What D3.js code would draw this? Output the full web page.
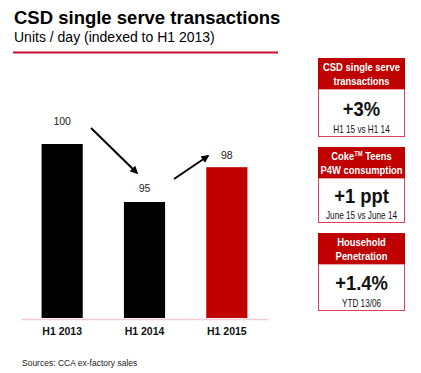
<!DOCTYPE html>
<html>
<head>
<meta charset="utf-8">
<script src="https://cdn.jsdelivr.net/npm/d3@7"></script>
<style>
  body { margin: 0; background: #fff; }
  svg text { font-family: "Liberation Sans", Arial, sans-serif; }
</style>
</head>
<body>
<svg id="chart"></svg>
<script>
// chart data
var periods = ["H1 2013", "H1 2014", "H1 2015"];
var values = [100, 95, 98];
var barColors = ["#000000", "#000000", "#c00000"];

// side panel data
var boxTitles = [["CSD single serve", "transactions"], ["Coke\u2122 Teens", "P4W consumption"], ["Household", "Penetration"]];
var boxValues = ["+3%", "+1 ppt", "+1.4%"];
var boxNotes = ["H1 15 vs H1 14", "June 15 vs June 14", "YTD 13/06"];

var screen = {width:421, height:373};
var red = "#c00000";
var narrow = 0.82; // squeeze for the narrow box lettering

var svg = d3.select("#chart")
    .attr("width", screen.width)
    .attr("height", screen.height)

// title block
svg.append("text")
    .attr("x", 14).attr("y", 24)
    .attr("font-size", 18.5).attr("font-weight", "bold")
    .text("CSD single serve transactions")
svg.append("text")
    .attr("x", 14).attr("y", 42)
    .attr("font-size", 14)
    .text("Units / day (indexed to H1 2013)")
svg.append("line")
    .attr("x1", 13).attr("x2", 278)
    .attr("y1", 52.5).attr("y2", 52.5)
    .attr("stroke", "#c8102e").attr("stroke-width", 2)

// scales
var xScale = d3.scaleBand()
    .domain(periods)
    .range([21, 268])
    .paddingInner(0.5)
    .paddingOuter(0.25)

var yScale = d3.scaleLinear()
    .domain([85, 100])
    .range([318, 144])

var g = svg.append("g").classed("graph", true)

g.selectAll("rect.bar")
    .data(values)
    .enter()
    .append("rect")
    .classed("bar", true)
    .attr("x", function(d, i) { return xScale(periods[i]); })
    .attr("y", function(d) { return yScale(d); })
    .attr("width", xScale.bandwidth())
    .attr("height", function(d) { return yScale(85) - yScale(d); })
    .attr("fill", function(d, i) { return barColors[i]; })

// value labels
var labelGap = [19, 10, 8];
g.selectAll("text.val")
    .data(values)
    .enter()
    .append("text")
    .classed("val", true)
    .attr("x", function(d, i) { return xScale(periods[i]) + xScale.bandwidth() / 2; })
    .attr("y", function(d, i) { return yScale(d) - labelGap[i]; })
    .attr("text-anchor", "middle")
    .attr("font-size", 10.5)
    .attr("fill", "#222")
    .text(function(d) { return d; })

// axis
var xAxis = d3.axisBottom(xScale).tickSize(0).tickPadding(9)
var axis = svg.append("g")
    .attr("transform", "translate(0,319)")
    .call(xAxis)
axis.select(".domain").attr("stroke", "#f4ccd8").attr("stroke-width", 1.5)
axis.selectAll("text")
    .attr("font-size", 10.5).attr("font-weight", "bold").attr("fill", "#111")
    .style("font-family", "Liberation Sans, Arial, sans-serif")

// arrows
svg.append("defs").append("marker")
    .attr("id", "head")
    .attr("viewBox", "0 0 10 10")
    .attr("refX", 8).attr("refY", 5)
    .attr("markerWidth", 4).attr("markerHeight", 4)
    .attr("orient", "auto")
    .append("path")
    .attr("d", "M0,0L10,5L0,10z")
    .attr("fill", "#000")

var arrows = [
    [[91, 128], [137, 173]],
    [[174, 179], [208, 156]]
];
svg.selectAll("line.arrow")
    .data(arrows)
    .enter()
    .append("line")
    .classed("arrow", true)
    .attr("x1", function(d) { return d[0][0]; })
    .attr("y1", function(d) { return d[0][1]; })
    .attr("x2", function(d) { return d[1][0]; })
    .attr("y2", function(d) { return d[1][1]; })
    .attr("stroke", "#000").attr("stroke-width", 2)
    .attr("marker-end", "url(#head)")

// source
svg.append("text")
    .attr("x", 22).attr("y", 366)
    .attr("font-size", 8.5).attr("fill", "#222")
    .text("Sources: CCA ex-factory sales")

// side boxes
var boxTops = [58, 147, 233];
var boxX = 318, boxW = 87, headH = 31, bodyH = [48, 45, 47];

var boxes = svg.selectAll("g.box")
    .data(boxValues)
    .enter()
    .append("g")
    .classed("box", true)
    .attr("transform", function(d, i) { return "translate(" + boxX + "," + boxTops[i] + ")"; })

boxes.append("rect")
    .attr("x", 0.5).attr("y", headH)
    .attr("width", boxW - 1)
    .attr("height", function(d, i) { return bodyH[i] - 0.5; })
    .attr("fill", "#fff").attr("stroke", "#e2405a").attr("stroke-width", 1)

boxes.append("rect")
    .attr("width", boxW).attr("height", headH)
    .attr("fill", red)

boxes.each(function(d, i) {
    var b = d3.select(this);
    boxTitles[i].forEach(function(line, j) {
        var t = b.append("text")
            .attr("transform", "translate(" + (boxW / 2) + "," + (13 + j * 14) + ") scale(" + narrow + ",1)")
            .attr("text-anchor", "middle")
            .attr("font-size", 11.5).attr("font-weight", "bold")
            .attr("fill", "#fff")
        if (line.indexOf("\u2122") >= 0) {
            var parts = line.split("\u2122");
            t.append("tspan").text(parts[0]);
            t.append("tspan").attr("font-size", 7).attr("dy", -4).text("TM");
            t.append("tspan").attr("dy", 4).text(parts[1]);
        } else {
            t.text(line);
        }
    })
})

boxes.append("text")
    .attr("transform", function(d, i) {
        return "translate(" + (boxW / 2) + "," + (headH + [27, 25, 26][i]) + ") scale(0.92,1)";
    })
    .attr("text-anchor", "middle")
    .attr("font-size", 20).attr("font-weight", "bold")
    .attr("fill", "#111")
    .text(function(d) { return d; })

boxes.append("text")
    .attr("transform", function(d, i) {
        return "translate(" + (boxW / 2) + "," + (headH + bodyH[i] - 4) + ") scale(" + narrow + ",1)";
    })
    .attr("text-anchor", "middle")
    .attr("font-size", 10)
    .attr("fill", "#111")
    .text(function(d, i) { return boxNotes[i]; })
</script>
</body>
</html>
